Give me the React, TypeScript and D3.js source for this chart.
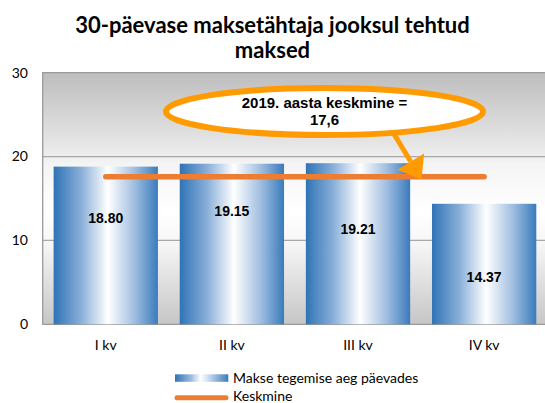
import React from "react";
import * as d3 from "d3";

// ---- data ----
const categories = ["I kv", "II kv", "III kv", "IV kv"];
const values = [18.8, 19.15, 19.21, 14.37];
const valueLabels = ["18.80", "19.15", "19.21", "14.37"];
const average = 17.6;
const yTicks = [0, 10, 20, 30];
const titleLines = ["30-päevase maksetähtaja jooksul tehtud", "maksed"];
const calloutLines = ["2019. aasta keskmine =", "17,6"];
const legendLabels = ["Makse tegemise aeg päevades", "Keskmine"];

// ---- layout ----
const W = 545;
const H = 403;
const plot = { left: 42.7, right: 547.2, top: 72.7, bottom: 324.3 };
// manual label anchors (in value units) as placed in the source chart
const labelAnchor = [12.67, 13.5, 11.36, 5.6];

const FONT = "Lato, 'Open Sans', sans-serif";
const ARIAL = "'Liberation Sans', Arial, sans-serif";

export default function App() {
  const x = d3
    .scaleBand<string>()
    .domain(categories)
    .range([plot.left, plot.right])
    .paddingInner(0.173)
    .paddingOuter(0.0865);
  const y = d3.scaleLinear().domain([0, 30]).range([plot.bottom, plot.top]);

  const lineGen = d3
    .line<string>()
    .x((c) => (x(c) as number) + x.bandwidth() / 2)
    .y(() => y(average));

  // callout geometry
  const ell = { cx: 324.5, cy: 111.5, rx: 158.5, ry: 23.5 };
  const S = { x: 391, y: 129 };
  const T = { x: 421.5, y: 179.5 };
  const dx = T.x - S.x;
  const dy = T.y - S.y;
  const len = Math.hypot(dx, dy);
  const ux = dx / len;
  const uy = dy / len;
  const headLen = 21;
  const headHalf = 15.7;
  const B = { x: T.x - headLen * ux, y: T.y - headLen * uy };
  const nx = -uy;
  const ny = ux;
  const head = `M${T.x},${T.y}L${B.x + headHalf * nx},${B.y + headHalf * ny}L${B.x - headHalf * nx},${B.y - headHalf * ny}Z`;

  const orange = "#ED7D31";
  const callout = "#FF9A00";

  return (
    <svg
      width={W}
      height={H}
      style={{ position: "absolute", left: 0, top: 0, background: "#fff" }}
    >
      <defs>
        <linearGradient id="bg" x1="0" y1="0" x2="0" y2="1">
          <stop offset="0" stopColor="#bdbdbd" />
          <stop offset="0.32" stopColor="#ebebeb" />
          <stop offset="0.36" stopColor="#f4f4f4" />
          <stop offset="0.55" stopColor="#ffffff" />
          <stop offset="0.68" stopColor="#f6f6f6" />
          <stop offset="1" stopColor="#c6c6c6" />
        </linearGradient>
        <linearGradient id="bar" x1="0" y1="0" x2="1" y2="0">
          <stop offset="0" stopColor="#2E74B5" />
          <stop offset="0.26" stopColor="#88AED8" />
          <stop offset="0.52" stopColor="#ffffff" />
          <stop offset="0.78" stopColor="#9EBDDF" />
          <stop offset="1" stopColor="#3A7BBC" />
        </linearGradient>
        <linearGradient id="legbar" x1="0" y1="0" x2="1" y2="0">
          <stop offset="0" stopColor="#2E74B5" />
          <stop offset="0.3" stopColor="#9DBBDD" />
          <stop offset="0.48" stopColor="#ffffff" />
          <stop offset="0.6" stopColor="#d7e3f1" />
          <stop offset="1" stopColor="#3A7BBC" />
        </linearGradient>
      </defs>

      {/* title */}
      {titleLines.map((t, i) => (
        <text
          key={t}
          x={272.5}
          y={32.5 + i * 25}
          textAnchor="middle"
          fontFamily={FONT}
          fontWeight="bold"
          fontSize={22}
          fill="#000"
        >
          {t}
        </text>
      ))}

      {/* plot background */}
      <rect
        x={plot.left}
        y={plot.top}
        width={plot.right - plot.left}
        height={plot.bottom - plot.top}
        fill="url(#bg)"
      />
      {/* gridlines */}
      {yTicks
        .filter((t) => t > 0 && t < 30)
        .map((t) => (
          <line
            key={t}
            x1={plot.left}
            x2={plot.right}
            y1={y(t)}
            y2={y(t)}
            stroke="#a8a8a8"
            strokeWidth={1.3}
          />
        ))}
      {/* border */}
      <path
        d={`M${plot.right},${plot.top}H${plot.left}V${plot.bottom}H${plot.right}`}
        fill="none"
        stroke="#9a9a9a"
        strokeWidth={1.3}
      />

      {/* y tick labels */}
      {yTicks.map((t) => (
        <text
          key={t}
          x={28}
          y={y(t)}
          dy="0.35em"
          textAnchor="end"
          fontFamily={FONT}
          fontSize={14}
          fill="#000"
        >
          {t}
        </text>
      ))}

      {/* bars */}
      {categories.map((c, i) => (
        <rect
          key={c}
          x={x(c)}
          y={y(values[i])}
          width={x.bandwidth()}
          height={plot.bottom - y(values[i])}
          fill="url(#bar)"
        />
      ))}

      {/* value labels */}
      {categories.map((c, i) => (
        <text
          key={c}
          x={(x(c) as number) + x.bandwidth() / 2}
          y={y(labelAnchor[i])}
          dy="0.35em"
          textAnchor="middle"
          fontFamily={ARIAL}
          fontWeight="bold"
          fontSize={14}
          fill="#000"
        >
          {valueLabels[i]}
        </text>
      ))}

      {/* category labels */}
      {categories.map((c) => (
        <text
          key={c}
          x={(x(c) as number) + x.bandwidth() / 2}
          y={350}
          textAnchor="middle"
          fontFamily={FONT}
          fontSize={14}
          fill="#000"
        >
          {c}
        </text>
      ))}

      {/* average line */}
      <path
        d={lineGen([categories[0], categories[categories.length - 1]]) || ""}
        stroke={orange}
        strokeWidth={5.5}
        strokeLinecap="round"
        fill="none"
      />

      {/* callout arrow */}
      <line
        x1={S.x}
        y1={S.y}
        x2={B.x}
        y2={B.y}
        stroke={callout}
        strokeWidth={5}
      />
      <path d={head} fill={callout} />

      {/* callout ellipse */}
      <ellipse
        cx={ell.cx}
        cy={ell.cy}
        rx={ell.rx}
        ry={ell.ry}
        fill="#fff"
        stroke={callout}
        strokeWidth={6}
      />
      {calloutLines.map((t, i) => (
        <text
          key={t}
          x={ell.cx}
          y={ell.cy - 8.5 + i * 17}
          dy="0.35em"
          textAnchor="middle"
          fontFamily={ARIAL}
          fontWeight="bold"
          fontSize={15}
          fill="#000"
        >
          {t}
        </text>
      ))}

      {/* legend */}
      <rect x={175} y={374.3} width={53.3} height={7.5} fill="url(#legbar)" />
      <text x={233} y={378} dy="0.35em" fontFamily={FONT} fontSize={14} fill="#000">
        {legendLabels[0]}
      </text>
      <line
        x1={177}
        x2={226}
        y1={397.8}
        y2={397.8}
        stroke={orange}
        strokeWidth={5}
        strokeLinecap="round"
      />
      <text x={233} y={396.5} dy="0.35em" fontFamily={FONT} fontSize={14} fill="#000">
        {legendLabels[1]}
      </text>
    </svg>
  );
}
